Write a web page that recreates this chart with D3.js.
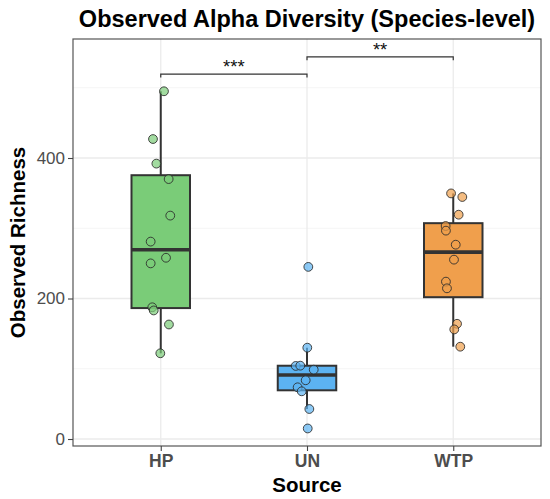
<!DOCTYPE html>
<html><head><meta charset="utf-8">
<script src="https://cdn.jsdelivr.net/npm/d3@7"></script>
<style>body{margin:0;background:#fff}</style>
</head><body>
<svg id="c" width="550" height="499"></svg>
<script>
const categories = ["HP", "UN", "WTP"];
const colors = ["#7acc78", "#5cb3f2", "#f09f4c"];
const valuesHP = [495, 427, 392, 370, 318, 281, 258, 250, 187.5, 183, 163, 122];
const jitterHP = [0.022, -0.053, -0.030, 0.054, 0.065, -0.069, 0.036, -0.069, -0.058, -0.048, 0.056, -0.003];
const valuesUN = [245, 130, 104, 104.4, 98.7, 83.6, 73.6, 67.9, 42.7, 15];
const jitterUN = [0.009, 0.002, -0.077, -0.046, 0.046, -0.009, -0.064, -0.036, 0.016, 0.005];
const valuesWTP = [349.6, 344.5, 319.3, 303.2, 296.6, 276.6, 255.3, 224, 214.5, 164, 156, 131.4];
const jitterWTP = [-0.015, 0.062, 0.037, -0.052, -0.050, 0.017, 0.005, -0.050, -0.043, 0.026, 0.007, 0.048];
const yTicks = [0, 200, 400];
const comparisons = [
  {from: "HP", to: "UN", y: 519.5, label: "***"},
  {from: "UN", to: "WTP", y: 544, label: "**"}
];
const titleText = "Observed Alpha Diversity (Species-level)";
const xTitle = "Source", yTitle = "Observed Richness";

const groups = [valuesHP, valuesUN, valuesWTP];
const jitters = [jitterHP, jitterUN, jitterWTP];

const svg = d3.select("#c");
const font = "'Liberation Sans', Arial, Helvetica, sans-serif";
const L = 73, R = 541, T = 39, B = 446;

const x = d3.scalePoint().domain(categories).range([L, R]).padding(0.6);
const step = x.step();
const y = d3.scaleLinear().domain([-9.96, 569.4]).range([B, T]);

// grid
const g = svg.append("g");
const minor = [100, 300, 500];
g.selectAll(".gmin").data(minor).join("line")
  .attr("x1", L).attr("x2", R).attr("y1", d => y(d)).attr("y2", d => y(d))
  .attr("stroke", "#f2f2f2").attr("stroke-width", 0.8);
g.selectAll(".gmaj").data(yTicks).join("line")
  .attr("x1", L).attr("x2", R).attr("y1", d => y(d)).attr("y2", d => y(d))
  .attr("stroke", "#ebebeb").attr("stroke-width", 1.3);
g.selectAll(".gx").data(categories).join("line")
  .attr("y1", T).attr("y2", B).attr("x1", d => x(d)).attr("x2", d => x(d))
  .attr("stroke", "#ebebeb").attr("stroke-width", 1.3);

// boxplots
const bw = step * 0.4;
groups.forEach((vals, i) => {
  const cat = categories[i];
  const s = vals.slice().sort(d3.ascending);
  const q1 = d3.quantile(s, 0.25), med = d3.quantile(s, 0.5), q3 = d3.quantile(s, 0.75);
  const iqr = q3 - q1;
  const lo = d3.min(s.filter(v => v >= q1 - 1.5 * iqr));
  const hi = d3.max(s.filter(v => v <= q3 + 1.5 * iqr));
  const cx = x(cat);
  const bg = svg.append("g");
  bg.append("line").attr("x1", cx).attr("x2", cx).attr("y1", y(hi)).attr("y2", y(q3))
    .attr("stroke", "#333").attr("stroke-width", 2);
  bg.append("line").attr("x1", cx).attr("x2", cx).attr("y1", y(q1)).attr("y2", y(lo))
    .attr("stroke", "#333").attr("stroke-width", 2);
  bg.append("rect").attr("x", cx - bw / 2).attr("width", bw)
    .attr("y", y(q3)).attr("height", y(q1) - y(q3))
    .attr("fill", colors[i]).attr("stroke", "#333").attr("stroke-width", 2);
  bg.append("line").attr("x1", cx - bw / 2).attr("x2", cx + bw / 2).attr("y1", y(med)).attr("y2", y(med))
    .attr("stroke", "#333").attr("stroke-width", 3.6);
});

// points
groups.forEach((vals, i) => {
  const cat = categories[i];
  svg.append("g").selectAll("circle").data(vals).join("circle")
    .attr("cx", (d, j) => x(cat) + jitters[i][j] * step)
    .attr("cy", d => y(d))
    .attr("r", 4.4)
    .attr("fill", colors[i]).attr("fill-opacity", 0.7)
    .attr("stroke", "#2a2a2a").attr("stroke-opacity", 0.85).attr("stroke-width", 1);
});

// comparison brackets
comparisons.forEach(c => {
  const x1 = x(c.from), x2 = x(c.to), yy = y(c.y), tk = y(c.y) - y(c.y - 5);
  svg.append("path")
    .attr("d", `M${x1},${yy - tk}V${yy}H${x2}V${yy - tk}`)
    .attr("fill", "none").attr("stroke", "#333").attr("stroke-width", 1.2);
  svg.append("text").attr("x", (x1 + x2) / 2).attr("y", yy - 1)
    .attr("text-anchor", "middle").attr("font-family", font).attr("font-size", 18.5)
    .attr("fill", "#111").text(c.label);
});

// border
svg.append("rect").attr("x", L).attr("y", T).attr("width", R - L).attr("height", B - T)
  .attr("fill", "none").attr("stroke", "#555").attr("stroke-width", 1.2);

// axes
const ax = svg.append("g").attr("transform", `translate(0,${B})`)
  .call(d3.axisBottom(x).tickSize(5).tickPadding(4));
ax.select(".domain").remove();
ax.selectAll("line").attr("stroke", "#444").attr("stroke-width", 1.1);
ax.selectAll("text").attr("font-family", font).attr("font-size", 17.5).attr("font-weight", "bold")
  .attr("fill", "#4d4d4d");

const ay = svg.append("g").attr("transform", `translate(${L},0)`)
  .call(d3.axisLeft(y).tickValues(yTicks).tickSize(5).tickPadding(3));
ay.select(".domain").remove();
ay.selectAll("line").attr("stroke", "#444").attr("stroke-width", 1.1);
ay.selectAll("text").attr("font-family", font).attr("font-size", 17)
  .attr("fill", "#4d4d4d");

// titles
svg.append("text").attr("x", (L + R) / 2 + 0).attr("y", 27)
  .attr("text-anchor", "middle").attr("font-family", font).attr("font-size", 23.5)
  .attr("font-weight", "bold").attr("fill", "#000").text(titleText);
svg.append("text").attr("x", (L + R) / 2).attr("y", 492)
  .attr("text-anchor", "middle").attr("font-family", font).attr("font-size", 20.5)
  .attr("font-weight", "bold").attr("fill", "#000").text(xTitle);
svg.append("text").attr("transform", `translate(25,${(T + B) / 2 + 0}) rotate(-90)`)
  .attr("text-anchor", "middle").attr("font-family", font).attr("font-size", 20.5)
  .attr("font-weight", "bold").attr("fill", "#000").text(yTitle);
</script>
</body></html>
